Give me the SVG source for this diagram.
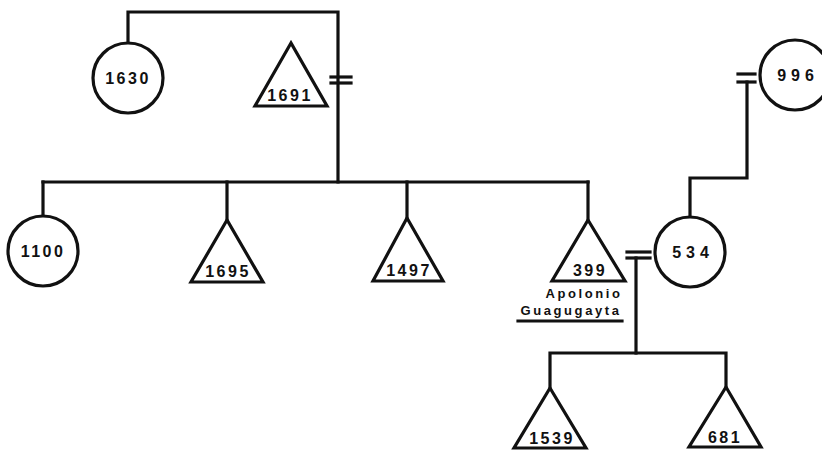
<svg xmlns="http://www.w3.org/2000/svg" width="822" height="450" viewBox="0 0 822 450">
  <style>
    .ln { fill: none; stroke: #111; stroke-width: 3.2; stroke-linecap: square; }
    .shape { fill: #fff; stroke: #111; stroke-width: 3.2; stroke-linejoin: miter; }
    .lbl { font-family: "Liberation Sans", "DejaVu Sans", sans-serif; font-size: 16px; font-weight: bold; fill: #111; text-anchor: middle; letter-spacing: 2.5px; }
    .wide { letter-spacing: 5px; }
    .name { font-family: "Liberation Sans", "DejaVu Sans", sans-serif; font-size: 13px; font-weight: bold; fill: #111; text-anchor: middle; letter-spacing: 2.6px; }
  </style>
  <rect width="822" height="450" fill="#fff"/>

  <g id="connectors">
    <!-- marriage 1630 = 1691 -->
    <polyline class="ln" points="128,42 128,12 338,12 338,182"/>
    <line class="ln" x1="331" y1="77" x2="351" y2="77"/>
    <line class="ln" x1="331" y1="83" x2="351" y2="83"/>
    <!-- sibship line -->
    <line class="ln" x1="43" y1="182" x2="588" y2="182"/>
    <line class="ln" x1="43" y1="182" x2="43" y2="215"/>
    <line class="ln" x1="227" y1="182" x2="227" y2="220"/>
    <line class="ln" x1="407" y1="182" x2="407" y2="218"/>
    <line class="ln" x1="588" y1="182" x2="588" y2="220"/>
    <!-- 996 to 534 -->
    <line class="ln" x1="738" y1="74" x2="755" y2="74"/>
    <line class="ln" x1="738" y1="82" x2="755" y2="82"/>
    <polyline class="ln" points="747,82 747,178 690,178 690,216"/>
    <!-- marriage 399 = 534 -->
    <line class="ln" x1="627" y1="252" x2="650" y2="252"/>
    <line class="ln" x1="627" y1="258" x2="650" y2="258"/>
    <polyline class="ln" points="636,258 636,353"/>
    <polyline class="ln" points="550,388 550,353 726,353 726,387"/>
  </g>

  <g id="n1630">
    <circle class="shape" cx="128" cy="78" r="35"/>
    <text class="lbl" x="128" y="84">1630</text>
  </g>
  <g id="n1691">
    <polygon class="shape" points="291,43 255,106 327,106"/>
    <text class="lbl" x="290" y="101">1691</text>
  </g>
  <g id="n996">
    <circle class="shape" cx="795" cy="75" r="35"/>
    <text class="lbl wide" x="798" y="81">996</text>
  </g>
  <g id="n1100">
    <circle class="shape" cx="43" cy="251" r="35"/>
    <text class="lbl" x="43" y="257">1100</text>
  </g>
  <g id="n1695">
    <polygon class="shape" points="227,220 191,282 263,282"/>
    <text class="lbl" x="228" y="277">1695</text>
  </g>
  <g id="n1497">
    <polygon class="shape" points="407,218 373,281 443,281"/>
    <text class="lbl" x="409" y="276">1497</text>
  </g>
  <g id="n399">
    <polygon class="shape" points="588,220 552,281 625,281"/>
    <text class="lbl" x="590" y="276">399</text>
    <text class="name" x="584" y="298">Apolonio</text>
    <text class="name" x="571" y="315">Guagugayta</text>
    <line class="ln" x1="518" y1="321" x2="622" y2="321"/>
  </g>
  <g id="n534">
    <circle class="shape" cx="690" cy="252" r="35"/>
    <text class="lbl wide" x="693" y="258">534</text>
  </g>
  <g id="n1539">
    <polygon class="shape" points="550,388 514,448 586,448"/>
    <text class="lbl" x="552" y="444">1539</text>
  </g>
  <g id="n681">
    <polygon class="shape" points="726,387 689,447 761,447"/>
    <text class="lbl" x="725" y="443">681</text>
  </g>
</svg>
